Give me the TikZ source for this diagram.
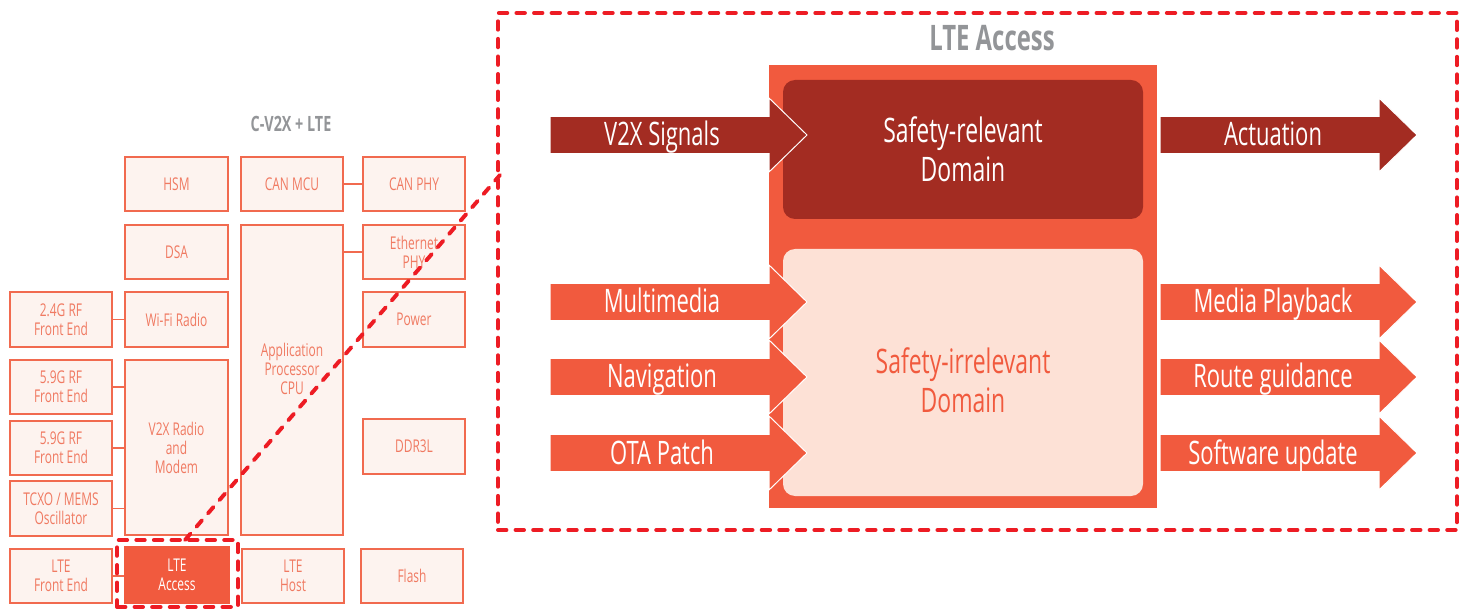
\documentclass[tikz,border=0pt]{standalone}
\usepackage{fontspec}
\setmainfont{Open Sans}[FakeStretch=0.68]

\definecolor{orng}{HTML}{F15A3E}
\definecolor{dkred}{HTML}{A32C22}
\definecolor{pale}{HTML}{FDE1D6}
\definecolor{boxfill}{HTML}{FDF3EF}
\definecolor{boxline}{HTML}{F16A4F}
\definecolor{boxtext}{HTML}{F07A62}
\definecolor{zoomred}{HTML}{ED1C24}
\definecolor{ttlgray}{HTML}{939598}

\tikzset{
  blk/.style={draw=boxline, fill=boxfill, line width=1.3pt, inner sep=0pt,
    text=boxtext, align=center, font={\fontsize{12.5}{13.5}\selectfont}},
  hotblk/.style={blk, fill=orng, draw=orng, text=white},
  link/.style={draw=boxline, line width=1pt},
  zoomframe/.style={draw=zoomred, line width=2.8pt, dash pattern=on 6pt off 6.5pt, line cap=round},
  ttl/.style={text=ttlgray, font={\bfseries\fontsize{#1}{#1}\selectfont}},
  domainbox/.style={inner sep=0pt, rounded corners=0.3cm, align=center,
    font={\fontsize{24}{27.5}\selectfont}},
  flow/.style={draw=white, line width=0.7pt},
  flowlbl/.style={anchor=base, text=white, inner sep=0pt, font={\fontsize{23}{24}\selectfont}}
}

% rectangle node spanning (x1,y1)-(x2,y2), in pixel units
\newcommand\spanbox[7][blk]{%
  \node[#1, minimum width={(#5-#3)*0.025cm}, minimum height={(#6-#4)*0.025cm}]
    (#2) at ({(#3+#5)/2},{(#4+#6)/2}) {#7};}

% incoming flow arrow centred on row #2
\newcommand\inflow[4]{%
  \path[flow, fill=#3] (550,{#2-18.5}) -- (769,{#2-18.5}) -- (769,{#2-37}) -- (807,#2)
    -- (769,{#2+37}) -- (769,{#2+18.5}) -- (550,{#2+18.5}) -- cycle;
  \node[flowlbl] (#1) at (662,{#2+11}) {#4};}
% outgoing flow arrow centred on row #2
\newcommand\outflow[4]{%
  \path[flow, fill=#3] (1160,{#2-18.5}) -- (1379,{#2-18.5}) -- (1379,{#2-37}) -- (1417,#2)
    -- (1379,{#2+37}) -- (1379,{#2+18.5}) -- (1160,{#2+18.5}) -- cycle;
  \node[flowlbl] (#1) at (1273,{#2+11}) {#4};}

\begin{document}
\begin{tikzpicture}[x=0.025cm, y=-0.025cm]
\useasboundingbox (0,0) rectangle (1465,609);

% ---------- board overview ----------
\node[ttl=15] (boardttl) at (291,124) {C-V2X + LTE};

\spanbox{hsm}{125}{157}{228}{211}{HSM}
\spanbox{canmcu}{241}{157}{343}{211}{CAN MCU}
\spanbox{canphy}{363}{157}{465}{211}{CAN PHY}
\spanbox{dsa}{125}{225}{228}{279}{DSA}
\spanbox{app}{241}{225}{343}{535}{}
\node[text=boxtext, align=center, font={\fontsize{12.5}{13.5}\selectfont}] (apptxt) at (292,369) {Application\\Processor\\CPU};
\spanbox{eth}{363}{225}{465}{279}{Ethernet\\PHY}
\spanbox{rf24}{10}{292}{112}{347}{2.4G RF\\Front End}
\spanbox{wifi}{125}{292}{228}{347}{Wi-Fi Radio}
\spanbox{power}{363}{292}{465}{347}{Power}
\spanbox{rf59a}{10}{360}{112}{414}{5.9G RF\\Front End}
\spanbox{rf59b}{10}{421}{112}{475}{5.9G RF\\Front End}
\spanbox{tcxo}{10}{481}{112}{536}{TCXO / MEMS\\Oscillator}
\spanbox{v2x}{125}{360}{228}{535}{V2X Radio\\and\\Modem}
\spanbox{ddr}{363}{419}{465}{474}{DDR3L}
\spanbox{ltefe}{10}{549}{112}{603}{LTE\\Front End}
\spanbox[hotblk]{lteacc}{125}{547}{229}{603}{LTE\\Access}
\spanbox{ltehost}{242}{549}{344}{603}{LTE\\Host}
\spanbox{flash}{361}{549}{463}{603}{Flash}

\draw[link] (canmcu.east) -- (canphy.west);
\draw[link] (eth.west -| app.east) -- (eth.west);
\draw[link] (rf24.east) -- (wifi.west);
\draw[link] (rf59a.east) -- (rf59a.east -| v2x.west);
\draw[link] (rf59b.east) -- (rf59b.east -| v2x.west);
\draw[link] (tcxo.east) -- (tcxo.east -| v2x.west);
\draw[link] (ltefe.east) -- (ltefe.east -| lteacc.west);

% ---------- LTE Access detail ----------
\node[ttl=25] (detailttl) at (992,38) {LTE Access};
\spanbox[fill=orng, inner sep=0pt]{core}{769}{65}{1157}{508}{}
\spanbox[domainbox, fill=dkred, text=white]{safe}{783}{80}{1143}{219}{Safety-relevant\\Domain}
\spanbox[domainbox, fill=pale]{unsafe}{783}{249}{1143}{496}{}
\node[domainbox, text=orng] (unsafetxt) at (963,380) {Safety-irrelevant\\Domain};

\inflow{v2xin}{135}{dkred}{V2X Signals}
\inflow{mmin}{302}{orng}{Multimedia}
\inflow{navin}{377}{orng}{Navigation}
\inflow{otain}{453}{orng}{OTA Patch}

\outflow{actout}{135}{dkred}{Actuation}
\outflow{mediaout}{302}{orng}{Media Playback}
\outflow{routeout}{377}{orng}{Route guidance}
\outflow{swout}{453}{orng}{Software update}

% ---------- zoom call-out ----------
\spanbox[zoomframe, inner sep=0pt]{zoomwin}{498}{13}{1457}{530}{}
\spanbox[zoomframe, inner sep=0pt]{accframe}{117}{540}{238}{607}{}
\coordinate (zs) at (185,540);
\coordinate (ze) at (500,175);
\draw[zoomframe] (zs) -- (ze);
\end{tikzpicture}
\end{document}
